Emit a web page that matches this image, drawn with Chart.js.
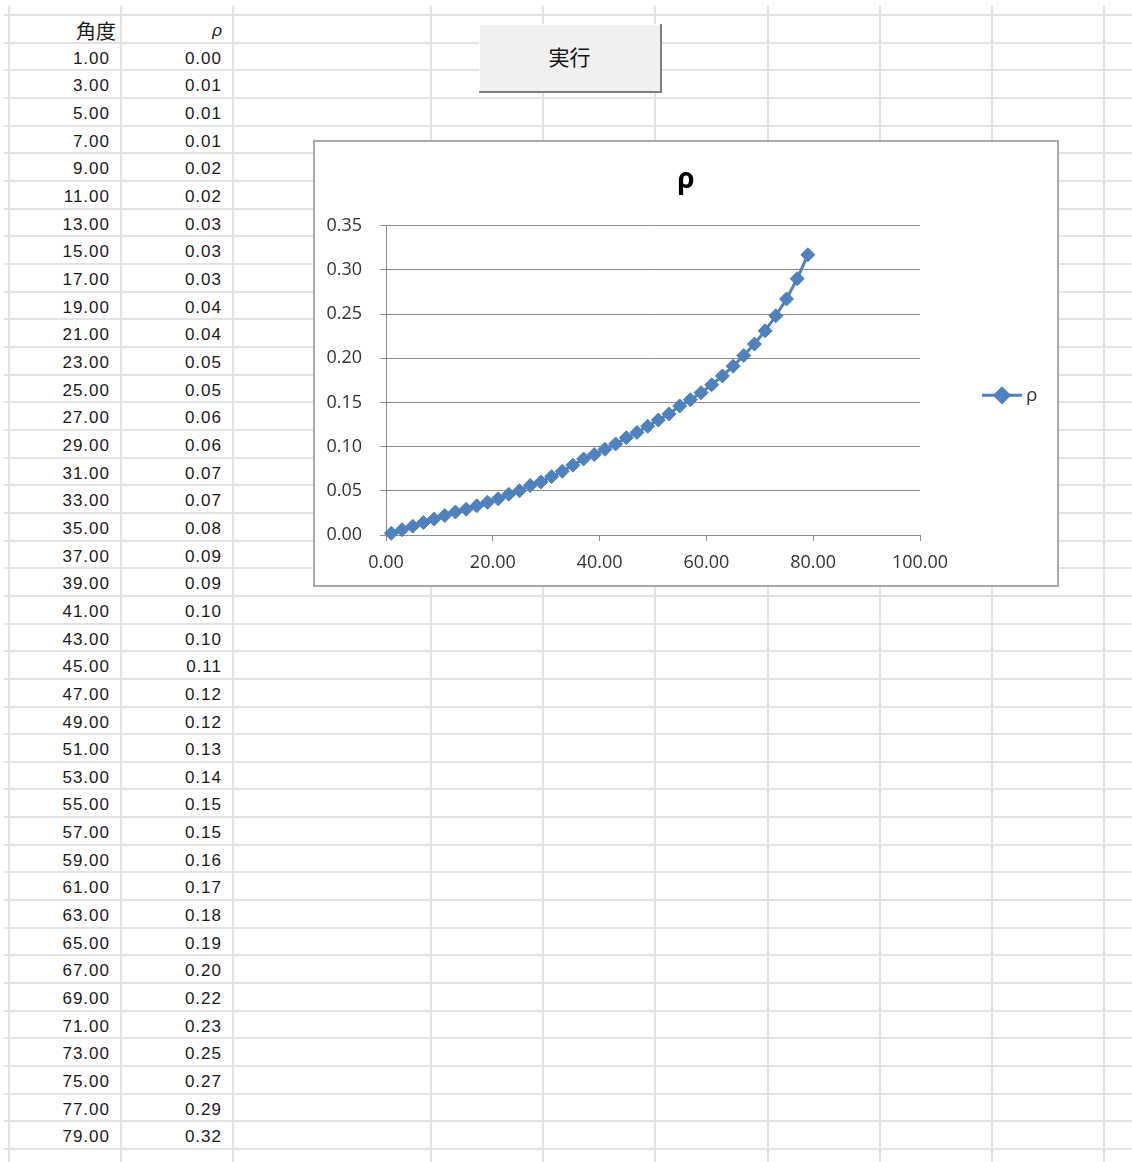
<!DOCTYPE html>
<html lang="ja">
<head>
<meta charset="utf-8">
<title>ρ</title>
<script src="https://cdn.jsdelivr.net/npm/chart.js@4.4.1/dist/chart.umd.min.js"></script>
<style>
  html, body { margin: 0; padding: 0; background: #fff; }
  #sheet { position: relative; width: 1132px; height: 1162px; overflow: hidden; }
  .hl { position: absolute; left: 4px; right: 0; height: 2px; background: #e3e3e3; }
  .vl { position: absolute; top: 6px; bottom: 0; width: 2px; background: #e3e3e3; }
  .cell {
    position: absolute; height: 28px; line-height: 28px; text-align: right;
    font-family: 'Liberation Sans', Arial, sans-serif; font-size: 17px;
    letter-spacing: 1px; color: #1a1a1a; white-space: nowrap;
  }
  .head { font-family: 'Noto Sans CJK JP', sans-serif; font-size: 20px; letter-spacing: 0; }
  .rho { font-style: italic; letter-spacing: 0; }
  #run {
    position: absolute; left: 479px; top: 24px; width: 181px; height: 67px;
    background: #f0f0f0; border-right: 2px solid #7f7f7f; border-bottom: 2px solid #7f7f7f;
    box-shadow: inset 1px 1px 0 #fff;
    font-family: 'Noto Sans CJK JP', sans-serif; font-size: 21px; color: #111;
    text-align: center; line-height: 64px;
  }
  #chartBox {
    position: absolute; left: 313px; top: 140px; width: 742px; height: 443px;
    border: 2px solid #a9a9a9; background: #fff;
  }
  #chartBox canvas { position: absolute; left: 0; top: 0; }
</style>
</head>
<body>
<div id="sheet">
  <div id="run">実行</div>
  <div id="chartBox"><canvas id="rho-chart" width="742" height="443"></canvas></div>
</div>
<script>
// データ
const angles = [1, 3, 5, 7, 9, 11, 13, 15, 17, 19, 21, 23, 25, 27, 29, 31, 33, 35, 37, 39,
                41, 43, 45, 47, 49, 51, 53, 55, 57, 59, 61, 63, 65, 67, 69, 71, 73, 75, 77, 79];
const rho = [0.002, 0.006, 0.010, 0.014, 0.018, 0.022, 0.026, 0.029, 0.033, 0.037,
             0.041, 0.046, 0.050, 0.056, 0.060, 0.066, 0.072, 0.079, 0.086, 0.091,
             0.097, 0.103, 0.110, 0.116, 0.123, 0.130, 0.137, 0.146, 0.153, 0.161,
             0.170, 0.180, 0.191, 0.203, 0.216, 0.231, 0.248, 0.267, 0.290, 0.317];
const headers = ['角度', 'ρ'];
const seriesName = 'ρ';
const chartTitle = 'ρ';

// シートの罫線
const sheet = document.getElementById('sheet');
const rowH = 27.66;
const top0 = 15;
const colLines = [9, 121, 233, 431, 543, 655, 768, 880, 992, 1104];

for (let r = 0; r <= 41; r++) {
  const d = document.createElement('div');
  d.className = 'hl';
  d.style.top = (top0 + r * rowH - 1) + 'px';
  sheet.insertBefore(d, sheet.firstChild);
}
colLines.forEach(x => {
  const d = document.createElement('div');
  d.className = 'vl';
  d.style.left = (x - 1) + 'px';
  sheet.insertBefore(d, sheet.firstChild);
});

// 表
function addCell(text, left, width, r, cls) {
  const d = document.createElement('div');
  d.className = 'cell' + (cls ? ' ' + cls : '');
  d.style.left = left + 'px';
  d.style.width = width + 'px';
  d.style.top = (top0 + r * rowH + 2) + 'px';
  d.textContent = text;
  sheet.appendChild(d);
}
addCell(headers[0], 9, 107, 0, 'head');
addCell(headers[1], 121, 101, 0, 'rho');
angles.forEach((a, i) => {
  addCell(a.toFixed(2), 9, 101, i + 1);
  addCell(rho[i].toFixed(2), 121, 101, i + 1);
});

// グラフ
const blue = '#4f81bd';
const axisGray = '#8c8c8c';
const textColor = '#333';
Chart.defaults.font.family = "'Open Sans', sans-serif";

// 凡例（線＋ひし形）
const sideLegend = {
  id: 'sideLegend',
  afterDraw(chart) {
    const { ctx, chartArea } = chart;
    const y = (chartArea.top + chartArea.bottom) / 2 + 15;
    const x0 = chartArea.right + 62;
    ctx.save();
    ctx.strokeStyle = blue;
    ctx.lineWidth = 3;
    ctx.beginPath();
    ctx.moveTo(x0, y);
    ctx.lineTo(x0 + 40, y);
    ctx.stroke();
    ctx.fillStyle = blue;
    Chart.helpers.drawPoint(ctx, { pointStyle: 'rectRot', radius: 7, borderWidth: 1 }, x0 + 20, y);
    ctx.fillStyle = textColor;
    ctx.font = "19px 'Open Sans', sans-serif";
    ctx.textBaseline = 'middle';
    ctx.fillText(seriesName, x0 + 44, y);
    ctx.restore();
  }
};

new Chart(document.getElementById('rho-chart').getContext('2d'), {
  type: 'scatter',
  data: {
    datasets: [{
      label: seriesName,
      data: angles.map((a, i) => ({ x: a, y: rho[i] })),
      showLine: true,
      borderColor: blue,
      backgroundColor: blue,
      borderWidth: 3,
      pointStyle: 'rectRot',
      pointRadius: 7,
      pointBorderWidth: 1,
      pointBorderColor: blue,
      clip: false
    }]
  },
  options: {
    responsive: false,
    animation: false,
    layout: { padding: 0 },
    plugins: {
      legend: { display: false },
      tooltip: { enabled: false },
      title: {
        display: true,
        text: chartTitle,
        color: '#000',
        font: { size: 28, weight: 'bold' },
        padding: { top: 21, bottom: 29 }
      }
    },
    scales: {
      x: {
        type: 'linear',
        min: 0,
        max: 100,
        afterFit: s => { s.height = 50; },
        ticks: { stepSize: 20, padding: 11, color: textColor, font: { size: 18 }, callback: v => v.toFixed(2) },
        grid: { drawOnChartArea: false, drawTicks: true, tickLength: 6, color: axisGray },
        border: { display: true, color: axisGray }
      },
      y: {
        min: 0,
        max: 0.35,
        afterFit: s => { s.width = 71; },
        ticks: { stepSize: 0.05, padding: 18, color: textColor, font: { size: 18 }, callback: v => v.toFixed(2) },
        grid: { drawTicks: true, tickLength: 6, color: axisGray },
        border: { display: true, color: axisGray }
      },
      // 凡例のための右側の余白
      legendSpace: {
        type: 'linear',
        axis: 'y',
        position: 'right',
        afterFit: s => { s.width = 137; },
        ticks: { display: false },
        grid: { display: false },
        border: { display: false }
      }
    }
  },
  plugins: [sideLegend]
});
</script>
</body>
</html>
